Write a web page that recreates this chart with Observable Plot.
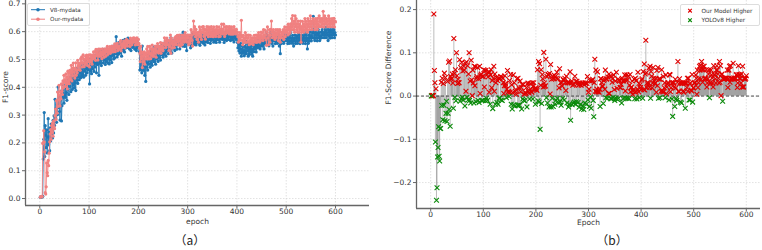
<!DOCTYPE html>
<html><head><meta charset="utf-8">
<script src="https://cdn.jsdelivr.net/npm/d3@7"></script>
<script src="https://cdn.jsdelivr.net/npm/@observablehq/plot@0.6"></script>
<style>
body{margin:0;background:#fff;font-family:"DejaVu Sans",sans-serif;}
#wrap{position:relative;width:762px;height:250px;overflow:hidden;}
.panel{position:absolute;top:0;}
.cap{position:absolute;top:230px;font-family:"Noto Sans CJK SC","DejaVu Sans",sans-serif;font-size:12px;color:#222;text-align:center;line-height:20px;}
.legend{position:absolute;border:1px solid #ddd;border-radius:2px;background:rgba(255,255,255,0.85);}
</style></head><body>
<div id="wrap"></div>
<script>
// one value per epoch, epochs 1..600: epoch = index + firstEpoch
const firstEpoch = 1;
const v8F1 = [
0.005,0.006,0.005,0.007,0.006,0.008,0.142,0.213,0.309,0.151,
0.262,0.228,0.183,0.247,0.164,0.221,0.287,0.193,0.238,0.172,
0.254,0.207,0.268,0.233,0.259,0.218,0.281,0.236,0.297,0.263,
0.357,0.288,0.324,0.274,0.338,0.302,0.401,0.327,0.368,0.313,
0.282,0.354,0.386,0.279,0.334,0.377,0.362,0.408,0.343,0.371,
0.398,0.364,0.417,0.381,0.353,0.406,0.392,0.428,0.374,0.416,
0.403,0.437,0.384,0.419,0.446,0.392,0.431,0.408,0.457,0.398,
0.442,0.417,0.388,0.453,0.426,0.468,0.414,0.439,0.462,0.427,
0.452,0.477,0.434,0.463,0.441,0.486,0.447,0.472,0.436,0.484,
0.458,0.497,0.443,0.481,0.468,0.452,0.489,0.463,0.502,0.471,
0.412,0.477,0.458,0.503,0.449,0.488,0.466,0.512,0.483,0.457,
0.498,0.473,0.516,0.487,0.452,0.508,0.482,0.527,0.496,0.443,
0.507,0.486,0.531,0.497,0.478,0.518,0.502,0.536,0.488,0.513,
0.527,0.498,0.482,0.521,0.493,0.538,0.506,0.487,0.532,0.503,
0.484,0.517,0.498,0.541,0.512,0.489,0.527,0.516,0.548,0.502,
0.528,0.506,0.547,0.521,0.582,0.533,0.509,0.552,0.518,0.561,
0.537,0.522,0.558,0.528,0.553,0.512,0.563,0.538,0.569,0.531,
0.548,0.527,0.572,0.541,0.558,0.546,0.567,0.543,0.577,0.552,
0.561,0.538,0.572,0.549,0.532,0.557,0.546,0.568,0.543,0.562,
0.551,0.568,0.537,0.559,0.548,0.532,0.563,0.541,0.572,0.553,
0.542,0.528,0.462,0.503,0.468,0.517,0.452,0.548,0.487,0.461,
0.508,0.477,0.443,0.497,0.421,0.472,0.516,0.488,0.462,0.507,
0.483,0.518,0.497,0.472,0.528,0.486,0.512,0.479,0.537,0.498,
0.517,0.492,0.546,0.508,0.483,0.527,0.502,0.538,0.516,0.493,
0.528,0.507,0.547,0.519,0.498,0.536,0.517,0.558,0.526,0.508,
0.547,0.518,0.542,0.561,0.527,0.512,0.548,0.531,0.568,0.537,
0.521,0.557,0.538,0.566,0.532,0.578,0.547,0.523,0.561,0.542,
0.568,0.541,0.557,0.532,0.576,0.548,0.566,0.537,0.558,0.577,
0.553,0.578,0.561,0.538,0.567,0.552,0.588,0.557,0.576,0.548,
0.598,0.562,0.578,0.547,0.568,0.587,0.558,0.532,0.571,0.579,
0.562,0.577,0.553,0.569,0.586,0.542,0.571,0.548,0.578,0.596,
0.567,0.553,0.581,0.558,0.587,0.566,0.552,0.578,0.561,0.588,
0.572,0.586,0.558,0.577,0.551,0.583,0.566,0.589,0.562,0.578,
0.581,0.558,0.587,0.569,0.552,0.578,0.563,0.591,0.567,0.582,
0.561,0.588,0.572,0.597,0.576,0.558,0.586,0.569,0.582,0.598,
0.573,0.587,0.562,0.579,0.596,0.568,0.588,0.561,0.583,0.572,
0.587,0.571,0.598,0.576,0.562,0.589,0.573,0.596,0.578,0.586,
0.572,0.597,0.578,0.561,0.588,0.571,0.598,0.582,0.568,0.587,
0.579,0.596,0.572,0.588,0.607,0.583,0.568,0.597,0.576,0.589,
0.571,0.598,0.582,0.563,0.587,0.578,0.596,0.572,0.588,0.577,
0.561,0.542,0.567,0.531,0.552,0.523,0.558,0.537,0.512,0.528,
0.548,0.522,0.561,0.532,0.513,0.547,0.528,0.566,0.521,0.542,
0.558,0.532,0.512,0.547,0.518,0.538,0.557,0.527,0.548,0.519,
0.537,0.512,0.558,0.528,0.547,0.566,0.538,0.557,0.527,0.548,
0.568,0.542,0.557,0.578,0.547,0.566,0.538,0.562,0.577,0.549,
0.566,0.548,0.577,0.557,0.538,0.568,0.587,0.558,0.578,0.598,
0.568,0.586,0.557,0.577,0.549,0.588,0.568,0.597,0.576,0.558,
0.587,0.568,0.548,0.577,0.596,0.568,0.588,0.557,0.578,0.566,
0.588,0.558,0.577,0.596,0.568,0.548,0.587,0.521,0.576,0.557,
0.587,0.568,0.597,0.577,0.558,0.586,0.567,0.596,0.578,0.588,
0.568,0.587,0.557,0.578,0.566,0.588,0.558,0.577,0.597,0.567,
0.578,0.558,0.587,0.568,0.548,0.577,0.566,0.588,0.557,0.578,
0.567,0.586,0.558,0.577,0.596,0.568,0.587,0.557,0.578,0.566,
0.588,0.567,0.577,0.558,0.586,0.568,0.597,0.577,0.557,0.588,
0.568,0.597,0.538,0.577,0.558,0.587,0.566,0.598,0.577,0.586,
0.567,0.607,0.578,0.596,0.655,0.577,0.598,0.568,0.587,0.606,
0.577,0.596,0.567,0.588,0.607,0.578,0.597,0.568,0.586,0.577,
0.598,0.578,0.607,0.587,0.597,0.596,0.578,0.616,0.587,0.606,
0.578,0.597,0.617,0.588,0.568,0.607,0.586,0.598,0.577,0.607,
0.587,0.606,0.578,0.597,0.616,0.588,0.607,0.578,0.597,0.588];
const ourF1 = [
0.005,0.007,0.006,0.008,0.007,0.198,0.201,0.244,0.203,0.168,
0.021,0.016,0.042,0.128,0.093,0.082,0.137,0.118,0.163,0.204,
0.232,0.248,0.213,0.262,0.238,0.271,0.224,0.279,0.257,0.251,
0.298,0.322,0.284,0.352,0.307,0.383,0.331,0.372,0.407,0.354,
0.333,0.384,0.358,0.412,0.386,0.374,0.423,0.397,0.443,0.418,
0.427,0.403,0.448,0.412,0.437,0.394,0.458,0.421,0.452,0.413,
0.461,0.428,0.453,0.479,0.423,0.468,0.442,0.487,0.454,0.468,
0.433,0.468,0.488,0.443,0.461,0.452,0.497,0.476,0.463,0.487,
0.482,0.461,0.503,0.487,0.509,0.473,0.488,0.517,0.502,0.474,
0.498,0.482,0.512,0.487,0.516,0.503,0.478,0.508,0.492,0.517,
0.473,0.498,0.517,0.492,0.508,0.483,0.516,0.502,0.527,0.513,
0.507,0.528,0.497,0.536,0.513,0.527,0.518,0.498,0.537,0.512,
0.518,0.537,0.512,0.528,0.521,0.503,0.538,0.517,0.529,0.508,
0.522,0.538,0.527,0.512,0.537,0.528,0.547,0.518,0.538,0.527,
0.531,0.546,0.522,0.537,0.528,0.548,0.536,0.527,0.547,0.538,
0.537,0.556,0.528,0.547,0.552,0.541,0.558,0.532,0.549,0.538,
0.548,0.537,0.562,0.568,0.531,0.553,0.542,0.557,0.548,0.566,
0.558,0.547,0.542,0.568,0.551,0.572,0.557,0.548,0.566,0.561,
0.567,0.558,0.547,0.577,0.562,0.568,0.553,0.561,0.572,0.578,
0.562,0.577,0.568,0.552,0.571,0.563,0.578,0.557,0.553,0.572,
0.558,0.541,0.523,0.492,0.548,0.503,0.527,0.471,0.512,0.522,
0.491,0.527,0.483,0.518,0.522,0.502,0.538,0.512,0.547,0.503,
0.528,0.502,0.547,0.521,0.503,0.538,0.517,0.552,0.512,0.537,
0.512,0.538,0.522,0.548,0.531,0.508,0.547,0.528,0.557,0.548,
0.523,0.547,0.532,0.538,0.561,0.522,0.548,0.537,0.558,0.531,
0.542,0.557,0.578,0.552,0.568,0.543,0.561,0.577,0.552,0.568,
0.553,0.532,0.568,0.547,0.588,0.522,0.577,0.558,0.541,0.567,
0.552,0.568,0.543,0.578,0.557,0.582,0.553,0.571,0.587,0.562,
0.578,0.552,0.588,0.568,0.548,0.577,0.558,0.587,0.553,0.578,
0.567,0.588,0.562,0.578,0.597,0.568,0.587,0.577,0.562,0.588,
0.578,0.553,0.588,0.567,0.558,0.577,0.607,0.587,0.568,0.548,
0.598,0.638,0.592,0.618,0.597,0.582,0.608,0.588,0.572,0.597,
0.588,0.562,0.598,0.617,0.582,0.607,0.588,0.572,0.598,0.617,
0.597,0.618,0.583,0.608,0.592,0.573,0.607,0.597,0.618,0.588,
0.607,0.582,0.617,0.591,0.608,0.598,0.583,0.618,0.597,0.588,
0.608,0.582,0.617,0.597,0.588,0.607,0.583,0.598,0.618,0.592,
0.607,0.598,0.582,0.617,0.597,0.583,0.608,0.592,0.627,0.598,
0.608,0.592,0.627,0.598,0.583,0.617,0.592,0.607,0.618,0.597,
0.598,0.617,0.607,0.592,0.618,0.598,0.607,0.591,0.617,0.598,
0.607,0.591,0.598,0.618,0.597,0.607,0.592,0.598,0.608,0.592,
0.598,0.582,0.562,0.588,0.567,0.597,0.572,0.588,0.641,0.582,
0.568,0.553,0.587,0.562,0.578,0.567,0.597,0.561,0.578,0.588,
0.577,0.562,0.578,0.588,0.553,0.567,0.587,0.568,0.557,0.578,
0.561,0.578,0.553,0.567,0.587,0.562,0.577,0.568,0.588,0.561,
0.578,0.588,0.567,0.597,0.578,0.562,0.587,0.568,0.598,0.577,
0.597,0.578,0.568,0.607,0.587,0.578,0.606,0.588,0.571,0.551,
0.598,0.617,0.578,0.553,0.588,0.607,0.562,0.587,0.608,0.638,
0.598,0.578,0.588,0.607,0.582,0.597,0.572,0.588,0.607,0.578,
0.597,0.588,0.607,0.568,0.598,0.578,0.607,0.562,0.587,0.598,
0.578,0.597,0.588,0.607,0.572,0.598,0.617,0.582,0.597,0.607,
0.598,0.617,0.588,0.627,0.607,0.592,0.618,0.597,0.628,0.607,
0.647,0.618,0.658,0.607,0.628,0.638,0.598,0.657,0.618,0.647,
0.607,0.628,0.598,0.638,0.617,0.598,0.627,0.608,0.638,0.562,
0.618,0.598,0.637,0.607,0.628,0.598,0.618,0.647,0.607,0.637,
0.608,0.627,0.598,0.647,0.618,0.638,0.607,0.628,0.657,0.618,
0.637,0.608,0.628,0.647,0.643,0.618,0.637,0.607,0.628,0.647,
0.618,0.637,0.608,0.648,0.627,0.618,0.657,0.637,0.618,0.647,
0.637,0.618,0.647,0.627,0.673,0.638,0.617,0.657,0.628,0.647,
0.627,0.647,0.637,0.618,0.638,0.657,0.627,0.647,0.618,0.637,
0.638,0.627,0.647,0.618,0.637,0.628,0.648,0.617,0.638,0.635];
const xTicks = [0,100,200,300,400,500,600];
const yTicksA = [0,0.1,0.2,0.3,0.4,0.5,0.6,0.7];
const yTicksB = [-0.2,-0.1,0,0.1,0.2];
const seriesNames = ["V8-mydata","Our-mydata"];
const diffNames = ["Our Model Higher","YOLOv8 Higher"];
const captions = ["（a）","（b）"];
const labelsA = {x:"epoch", y:"F1-score"};
const labelsB = {x:"Epoch", y:"F1-Score Difference"};

const n = Math.min(v8F1.length, ourF1.length);
const rows = d3.range(n).map(i => ({epoch: i + firstEpoch, v8: v8F1[i], our: ourF1[i], diff: ourF1[i] - v8F1[i]}));

const BLUE = "#1f77b4", SALMON = "#f08080", RED = "#e00000", GREEN = "#0a8a0a";
const gridStyle = {stroke:"#cfcfcf", strokeOpacity:1, strokeWidth:0.6, strokeDasharray:"1.5,1.5"};
const spine = {stroke:"#666", strokeWidth:1.3};
const fmt = d3.format(".1f");

const xdA = [-29, 669], ydA = [-0.025, 0.712];
const plotA = Plot.plot({
  width:380, height:228, marginLeft:25, marginRight:11, marginTop:0, marginBottom:23,
  style:{fontFamily:"DejaVu Sans", fontSize:"7.5px", color:"#333", background:"transparent", overflow:"visible"},
  x:{domain:xdA, label:null},
  y:{domain:ydA, label:null},
  marks:[
    Plot.gridX(xTicks, gridStyle),
    Plot.gridY(yTicksA, gridStyle),
    Plot.axisX(xTicks, {tickSize:3, tickPadding:0, stroke:"#666", label:null}),
    Plot.axisY(yTicksA, {tickSize:3, tickPadding:2, stroke:"#666", tickFormat:fmt, label:null}),
    Plot.ruleY([ydA[0]], spine),
    Plot.ruleX([xdA[0]], spine),
    Plot.line(rows, {x:"epoch", y:"v8", stroke:BLUE, strokeWidth:0.9}),
    Plot.dot(rows, {x:"epoch", y:"v8", fill:BLUE, r:1.6}),
    Plot.line(rows, {x:"epoch", y:"our", stroke:SALMON, strokeWidth:0.9}),
    Plot.dot(rows, {x:"epoch", y:"our", fill:SALMON, r:1.6}),
    Plot.text([labelsA.x], {frameAnchor:"bottom", dy:18, fontSize:7.5, fill:"#333"}),
    Plot.text([labelsA.y], {frameAnchor:"left", dx:-20, rotate:-90, fontSize:7.5, fill:"#333"})
  ]
});

const xdB = [-27, 627], ydB = [-0.260, 0.221];
const plotB = Plot.plot({
  width:382, height:228, marginLeft:36, marginRight:2, marginTop:0, marginBottom:20,
  style:{fontFamily:"DejaVu Sans", fontSize:"7.5px", color:"#333", background:"transparent", overflow:"visible"},
  x:{domain:xdB, label:null},
  y:{domain:ydB, label:null},
  marks:[
    Plot.gridX(xTicks, gridStyle),
    Plot.gridY(yTicksB, gridStyle),
    Plot.axisX(xTicks, {tickSize:3, tickPadding:0, stroke:"#666", label:null}),
    Plot.axisY(yTicksB, {tickSize:3, tickPadding:2, stroke:"#666", tickFormat:fmt, label:null}),
    Plot.ruleY([ydB[0]], spine),
    Plot.ruleX([xdB[0]], spine),
    Plot.ruleX(rows, {x:"epoch", y1:0, y2:"diff", stroke:"#7a7a7a", strokeWidth:0.6, strokeOpacity:0.85}),
    Plot.ruleY([0], {stroke:"#222", strokeWidth:0.8, strokeDasharray:"3,2"}),
    Plot.dot(rows.filter(d => d.diff > 0), {x:"epoch", y:"diff", symbol:"times", stroke:RED, r:2.3, strokeWidth:1.1}),
    Plot.dot(rows.filter(d => d.diff <= 0), {x:"epoch", y:"diff", symbol:"times", stroke:GREEN, r:2.3, strokeWidth:1.1}),
    Plot.text([labelsB.x], {frameAnchor:"bottom", dy:16, fontSize:7.5, fill:"#333"}),
    Plot.text([labelsB.y], {frameAnchor:"left", dx:-28, rotate:-90, fontSize:7.5, fill:"#333"})
  ]
});

const wrap = document.getElementById("wrap");
function addPanel(el, left){ const d=document.createElement("div"); d.className="panel"; d.style.left=left+"px"; d.appendChild(el); wrap.appendChild(d); }
addPanel(plotA, 0);
addPanel(plotB, 380);

function addCap(text, center){ const c=document.createElement("div"); c.className="cap"; c.style.left=(center-40)+"px"; c.style.width="80px"; c.textContent=text; wrap.appendChild(c); }
addCap(captions[0], 190);
addCap(captions[1], 612);

const NS="http://www.w3.org/2000/svg";
function svgLegend(left, top, w, h, items, draw, fs, textX){
  const div=document.createElement("div"); div.className="legend";
  div.style.left=left+"px"; div.style.top=top+"px"; div.style.width=w+"px"; div.style.height=h+"px";
  const s=document.createElementNS(NS,"svg"); s.setAttribute("width",w); s.setAttribute("height",h);
  items.forEach((it,i)=>{
    const y = 5.7 + i*9.5;
    draw(s, it, y);
    const t=document.createElementNS(NS,"text"); t.setAttribute("x",textX); t.setAttribute("y",y);
    t.setAttribute("dominant-baseline","central"); t.setAttribute("font-size",fs); t.setAttribute("fill","#333");
    t.setAttribute("font-family","DejaVu Sans"); t.textContent=it.name; s.appendChild(t);
  });
  div.appendChild(s); wrap.appendChild(div);
}
svgLegend(27, 3, 61, 21, [{name:seriesNames[0], c:BLUE},{name:seriesNames[1], c:SALMON}], (s,it,y)=>{
  const l=document.createElementNS(NS,"line"); l.setAttribute("x1",3); l.setAttribute("x2",17); l.setAttribute("y1",y); l.setAttribute("y2",y);
  l.setAttribute("stroke",it.c); l.setAttribute("stroke-width",1); s.appendChild(l);
  const c=document.createElementNS(NS,"circle"); c.setAttribute("cx",10); c.setAttribute("cy",y); c.setAttribute("r",1.8); c.setAttribute("fill",it.c); s.appendChild(c);
}, 5.6, 22);
svgLegend(680, 4, 78, 20, [{name:diffNames[0], c:RED},{name:diffNames[1], c:GREEN}], (s,it,y)=>{
  const p=document.createElementNS(NS,"path"); const r=1.8, x=9;
  p.setAttribute("d",`M${x-r},${y-r}L${x+r},${y+r}M${x-r},${y+r}L${x+r},${y-r}`);
  p.setAttribute("stroke",it.c); p.setAttribute("stroke-width",1.1); s.appendChild(p);
}, 5.8, 20.5);
</script>
</body></html>
